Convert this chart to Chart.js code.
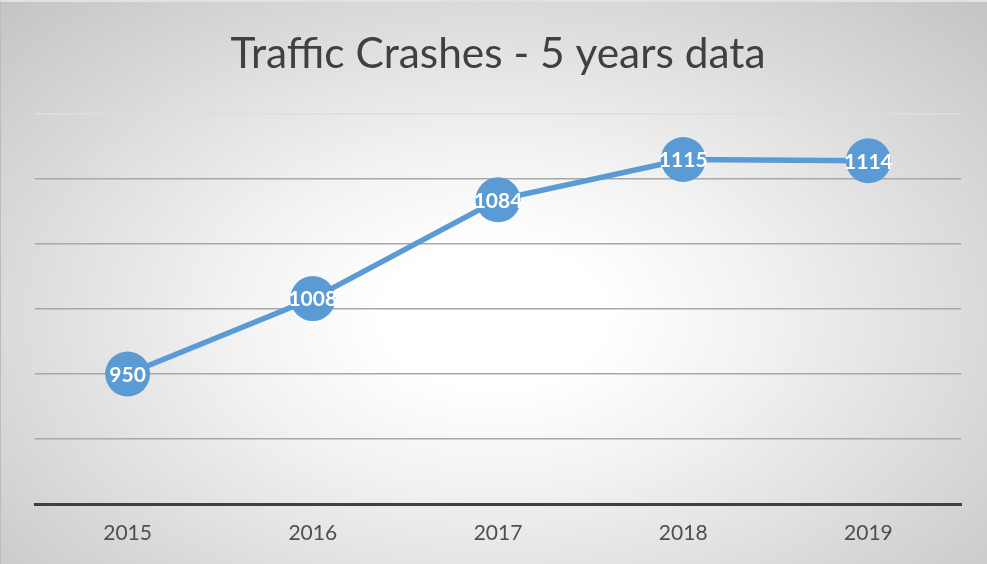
<!DOCTYPE html>
<html>
<head>
<meta charset="utf-8">
<script src="https://cdn.jsdelivr.net/npm/chart.js@4.4.1/dist/chart.umd.min.js"></script>
<style>
  html, body { margin: 0; padding: 0; }
  body { width: 987px; height: 564px; overflow: hidden; }
  #wrap {
    position: relative; width: 987px; height: 564px; box-sizing: border-box;
    background: radial-gradient(ellipse farthest-corner at 50% 56%, #ffffff 0%, #ffffff 16%, #f2f2f2 38%, #c4c4c4 100%);
    border-top: 2px solid #e2e2e2; border-left: 1px solid #bcbcbc;
  }
  canvas { position: absolute; left: 0; top: 0; }
</style>
</head>
<body>
<div id="wrap"><canvas id="c" width="987" height="564"></canvas></div>
<script>
const categories = ['2015', '2016', '2017', '2018', '2019'];
const crashes = [950, 1008, 1084, 1115, 1114];
const chartTitle = 'Traffic Crashes - 5 years data';
const yMin = 850, yMax = 1150, yStep = 50;

const FONT = 'Lato, "Open Sans", sans-serif';
const BLUE = '#5b9bd5';

// fit title width to reference
const mc = document.createElement('canvas').getContext('2d');
mc.font = '400 40px ' + FONT;
const titleSize = Math.round(40 * 535 / mc.measureText(chartTitle).width * 10) / 10;

const labelPlugin = {
  id: 'pointLabels',
  afterDatasetsDraw(chart) {
    const ctx = chart.ctx;
    const meta = chart.getDatasetMeta(0);
    ctx.save();
    ctx.fillStyle = '#ffffff';
    ctx.font = 'bold 21px ' + FONT;
    ctx.textAlign = 'center';
    ctx.textBaseline = 'middle';
    meta.data.forEach((el, i) => {
      ctx.fillText(String(chart.data.datasets[0].data[i]), el.x, el.y + 1);
    });
    ctx.restore();
  }
};

new Chart(document.getElementById('c'), {
  type: 'line',
  data: {
    labels: categories,
    datasets: [{
      data: crashes,
      borderColor: BLUE,
      backgroundColor: BLUE,
      borderWidth: 5.5,
      pointRadius: 22.5,
      pointHoverRadius: 22.5,
      pointBorderWidth: 0,
      pointBackgroundColor: BLUE,
      tension: 0,
      fill: false
    }]
  },
  options: {
    responsive: false,
    animation: false,
    events: [],
    layout: { padding: { left: 34, right: 27, top: 0, bottom: 0 } },
    plugins: {
      legend: { display: false },
      tooltip: { enabled: false },
      title: {
        display: true,
        text: chartTitle,
        color: '#404040',
        font: { family: FONT, size: titleSize, weight: '400', lineHeight: 1.2 },
        padding: { top: 27, bottom: 112 - 27 - titleSize * 1.2 }
      }
    },
    scales: {
      x: {
        offset: true,
        grid: { display: false, drawTicks: false },
        border: { display: true, color: '#404040', width: 3 },
        ticks: { color: '#4f4f4f', font: { family: FONT, size: 21 }, padding: 17 },
        afterFit(scale) { scale.height = 62; }
      },
      y: {
        min: yMin, max: yMax,
        ticks: { display: false, stepSize: yStep },
        border: { display: false },
        grid: {
          drawTicks: false,
          lineWidth: 1.5,
          color(ctx) {
            const v = ctx.tick && ctx.tick.value;
            if (v === yMax) return '#dedede';
            if (v === yMin) return 'rgba(0,0,0,0)';
            return '#a8a8a8';
          }
        },
        afterFit(scale) { scale.width = 0; }
      }
    }
  },
  plugins: [labelPlugin]
});
</script>
</body>
</html>
